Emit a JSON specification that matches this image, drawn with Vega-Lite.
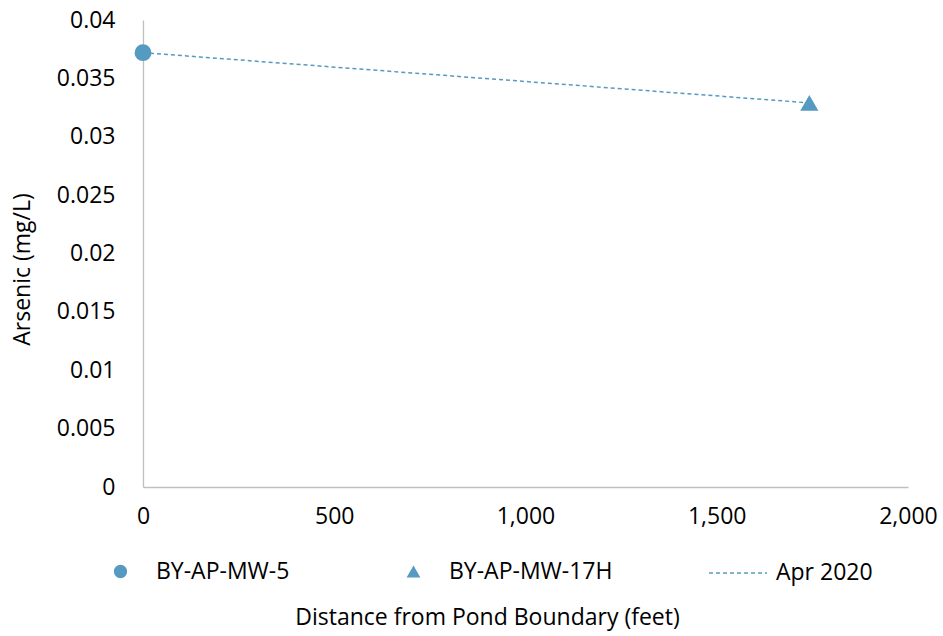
{
  "$schema": "https://vega.github.io/schema/vega-lite/v6.json",
  "width": 765,
  "height": 467,
  "autosize": {"type": "none"},
  "padding": {"left": 143, "top": 20, "right": 35, "bottom": 149},
  "background": "white",
  "config": {
    "view": {"stroke": null},
    "font": "Open Sans",
    "axis": {"labelFont": "Open Sans", "titleFont": "Open Sans", "labelColor": "#000000", "titleColor": "#000000", "titleFontWeight": "normal"},
    "legend": {"labelFont": "Open Sans", "labelColor": "#000000", "labelLimit": 400}
  },
  "data": {
    "values": [
      {"well": "BY-AP-MW-5", "distance": 0, "arsenic": 0.0372},
      {"well": "BY-AP-MW-17H", "distance": 1742, "arsenic": 0.0329}
    ]
  },
  "encoding": {
    "x": {
      "field": "distance",
      "type": "quantitative",
      "scale": {"domain": [0, 2000], "nice": false, "zero": true},
      "axis": {
        "title": "Distance from Pond Boundary (feet)",
        "values": [0, 500, 1000, 1500, 2000],
        "format": ",.0f",
        "grid": false,
        "ticks": false,
        "domainColor": "#BFBFBF",
        "domainWidth": 1.3,
        "labelFontSize": 23,
        "labelPadding": 18,
        "labelFlush": false,
        "titleFontSize": 23,
        "titleBaseline": "middle",
        "titleAlign": "center",
        "titleX": 344,
        "titleY": 130
      }
    },
    "y": {
      "field": "arsenic",
      "type": "quantitative",
      "scale": {"domain": [0, 0.04], "nice": false},
      "axis": {
        "title": "Arsenic (mg/L)",
        "values": [0, 0.005, 0.01, 0.015, 0.02, 0.025, 0.03, 0.035, 0.04],
        "format": ".3~f",
        "grid": false,
        "ticks": false,
        "domainColor": "#BFBFBF",
        "domainWidth": 1.3,
        "labelFontSize": 23,
        "labelPadding": 28,
        "titleFontSize": 23,
        "titleAngle": -90,
        "titleBaseline": "middle",
        "titleX": -121,
        "titleY": 249
      }
    }
  },
  "layer": [
    {
      "mark": {"type": "line", "color": "#559AC0", "strokeWidth": 1.5},
      "encoding": {
        "strokeDash": {
          "datum": "Apr 2020",
          "scale": {"domain": ["Apr 2020"], "range": [[4, 3]]},
          "legend": {
            "title": null,
            "orient": "none",
            "legendX": 565,
            "legendY": 523,
            "padding": 0,
            "symbolType": "stroke",
            "symbolSize": 3364,
            "symbolStrokeColor": "#559AC0",
            "symbolStrokeWidth": 1.5,
            "symbolDash": [4, 3],
            "labelFontSize": 23,
            "labelOffset": 8
          }
        }
      }
    },
    {
      "transform": [{"filter": "datum.well === 'BY-AP-MW-5'"}],
      "mark": {"type": "point", "filled": true, "opacity": 1, "color": "#559AC0", "size": 283},
      "encoding": {
        "shape": {
          "field": "well",
          "type": "nominal",
          "scale": {"domain": ["BY-AP-MW-5"], "range": ["circle"]},
          "legend": {
            "title": null,
            "orient": "none",
            "legendX": -34,
            "legendY": 540,
            "padding": 0,
            "symbolSize": 177,
            "symbolFillColor": "#559AC0",
            "symbolStrokeColor": "#559AC0",
            "symbolStrokeWidth": 0,
            "symbolOpacity": 1,
            "labelFontSize": 23,
            "labelOffset": 24
          }
        }
      }
    },
    {
      "transform": [{"filter": "datum.well === 'BY-AP-MW-17H'"}],
      "mark": {"type": "point", "filled": true, "opacity": 1, "color": "#559AC0", "size": 330},
      "encoding": {
        "size": {"value": 330},
        "fill": {
          "field": "well",
          "type": "nominal",
          "scale": {"domain": ["BY-AP-MW-17H"], "range": ["#559AC0"]},
          "legend": {
            "title": null,
            "orient": "none",
            "legendX": 259,
            "legendY": 540,
            "padding": 0,
            "symbolType": "triangle-up",
            "symbolSize": 190,
            "symbolStrokeWidth": 0,
            "symbolOpacity": 1,
            "labelFontSize": 23,
            "labelOffset": 24
          }
        },
        "shape": {"value": "triangle-up"}
      }
    }
  ],
  "resolve": {"scale": {"shape": "independent"}}
}
